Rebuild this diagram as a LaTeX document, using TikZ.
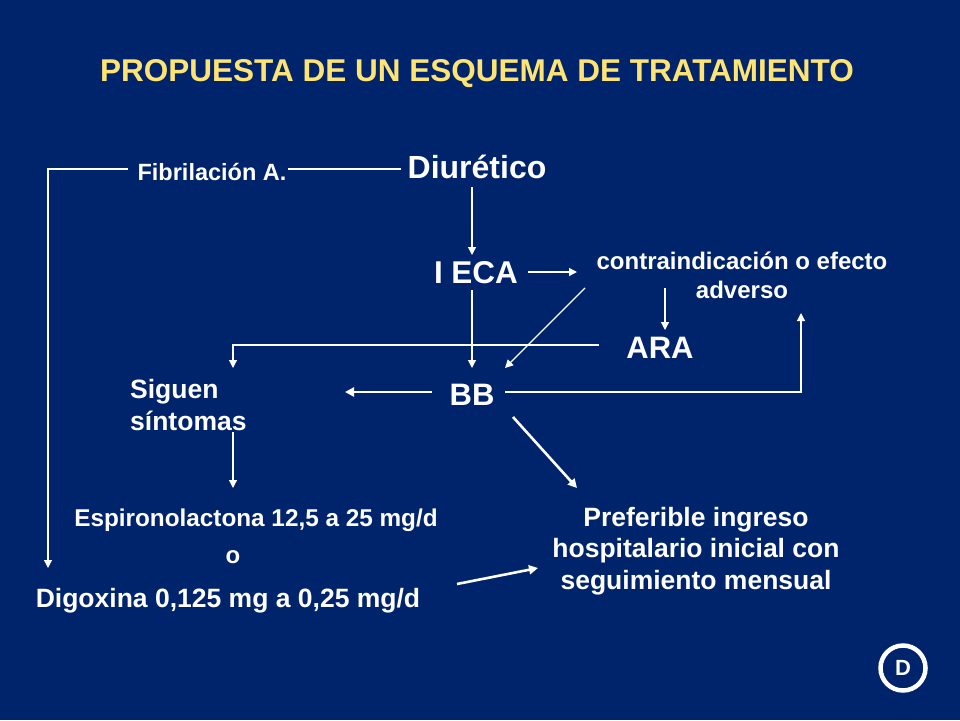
\documentclass[tikz,border=0pt]{standalone}
\usepackage{fontspec}
\setmainfont{Liberation Sans}
\usetikzlibrary{arrows.meta}
\definecolor{bg}{RGB}{0,36,108}
\definecolor{ttl}{RGB}{255,228,115}
\begin{document}
\begin{tikzpicture}[x=1pt,y=-1pt,
  txt/.style={text=white,inner sep=0pt,anchor=base},
  ln/.style={draw=white,line width=1.2pt},
  ar/.style={ln,-{Triangle[width=8pt,length=8pt]}},
  tar/.style={draw=white,line width=2.6pt,-{Triangle[width=9pt,length=9pt]}}]
\fill[bg] (0,0) rectangle (960,720);
\useasboundingbox (0,0) rectangle (960,720);

\node[txt,text=ttl,font=\fontsize{31.5}{31.5}\selectfont\bfseries] (title) at (477,81) {PROPUESTA DE UN ESQUEMA DE TRATAMIENTO};
\node[txt,font=\fontsize{23.5}{23.5}\selectfont\bfseries] (fib) at (212,180) {Fibrilación A.};
\node[txt,font=\fontsize{32}{32}\selectfont\bfseries] (diur) at (477,178) {Diurético};
\node[txt,font=\fontsize{31.5}{31.5}\selectfont\bfseries] (ieca) at (476,283) {I ECA};
\node[txt,align=center,font=\fontsize{24}{29}\selectfont\bfseries] (contra) at (742,298) {contraindicación o efecto\\adverso};
\node[txt,font=\fontsize{31}{31}\selectfont\bfseries] (ara) at (660,358) {ARA};
\node[txt,font=\fontsize{31}{31}\selectfont\bfseries] (bb) at (472,405) {BB};
\node[txt,anchor=base west,align=left,font=\fontsize{26.5}{32}\selectfont\bfseries] (sig) at (130,430) {Siguen\\síntomas};
\node[txt,font=\fontsize{24.3}{24.3}\selectfont\bfseries] (espi) at (256,526) {Espironolactona 12,5 a 25 mg/d};
\node[txt,font=\fontsize{24}{24}\selectfont\bfseries] (o) at (233,563) {o};
\node[txt,font=\fontsize{26.5}{26.5}\selectfont\bfseries] (dig) at (228,607) {Digoxina 0,125 mg a 0,25 mg/d};
\node[txt,align=center,font=\fontsize{26.5}{31.5}\selectfont\bfseries] (pref) at (696,589) {Preferible ingreso\\hospitalario inicial con\\seguimiento mensual};
\node[circle,draw=white,line width=4.5pt,minimum size=45pt,inner sep=0pt,text=white,font=\fontsize{22}{22}\selectfont\bfseries] (logo) at (903,668) {D};

% coordinates
\coordinate (fibL) at (128,169);
\coordinate (fibR) at (288,169);
\coordinate (diurL) at (401,169);
\coordinate (cA) at (48,169);
\coordinate (digT) at (48,568);
\coordinate (diurB) at (472,187);
\coordinate (iecaT) at (472,255);
\coordinate (iecaR) at (528,272);
\coordinate (contraL) at (577,272);
\coordinate (contraB) at (665,288);
\coordinate (araT) at (665,330);
\coordinate (contraD) at (585,288);
\coordinate (bbNE) at (505,368);
\coordinate (araL) at (599,345);
\coordinate (cB) at (233,345);
\coordinate (sigT) at (233,368);
\coordinate (iecaB) at (472,290);
\coordinate (bbT) at (472,368);
\coordinate (bbL) at (432,392);
\coordinate (sigR) at (345,392);
\coordinate (bbR) at (505,392);
\coordinate (cC) at (801,392);
\coordinate (contraBR) at (801,313);
\coordinate (sigB) at (233,432);
\coordinate (espiT) at (233,488);
\coordinate (bbSE) at (513,417);
\coordinate (prefNW) at (577,488);
\coordinate (digR) at (457,584);
\coordinate (prefW) at (538,568);

\draw[ar] (fibL) -- (cA) -- (digT);
\draw[ln] (fibR) -- (diurL);
\draw[ar] (diurB) -- (iecaT);
\draw[ar] (iecaR) -- (contraL);
\draw[ar] (contraB) -- (araT);
\draw[ar] (contraD) -- (bbNE);
\draw[ar] (araL) -- (cB) -- (sigT);
\draw[ar] (iecaB) -- (bbT);
\draw[tar] (bbL) -- (sigR);
\draw[ar] (bbR) -- (cC) -- (contraBR);
\draw[ar] (sigB) -- (espiT);
\draw[tar] (bbSE) -- (prefNW);
\draw[tar] (digR) -- (prefW);
\end{tikzpicture}
\end{document}
